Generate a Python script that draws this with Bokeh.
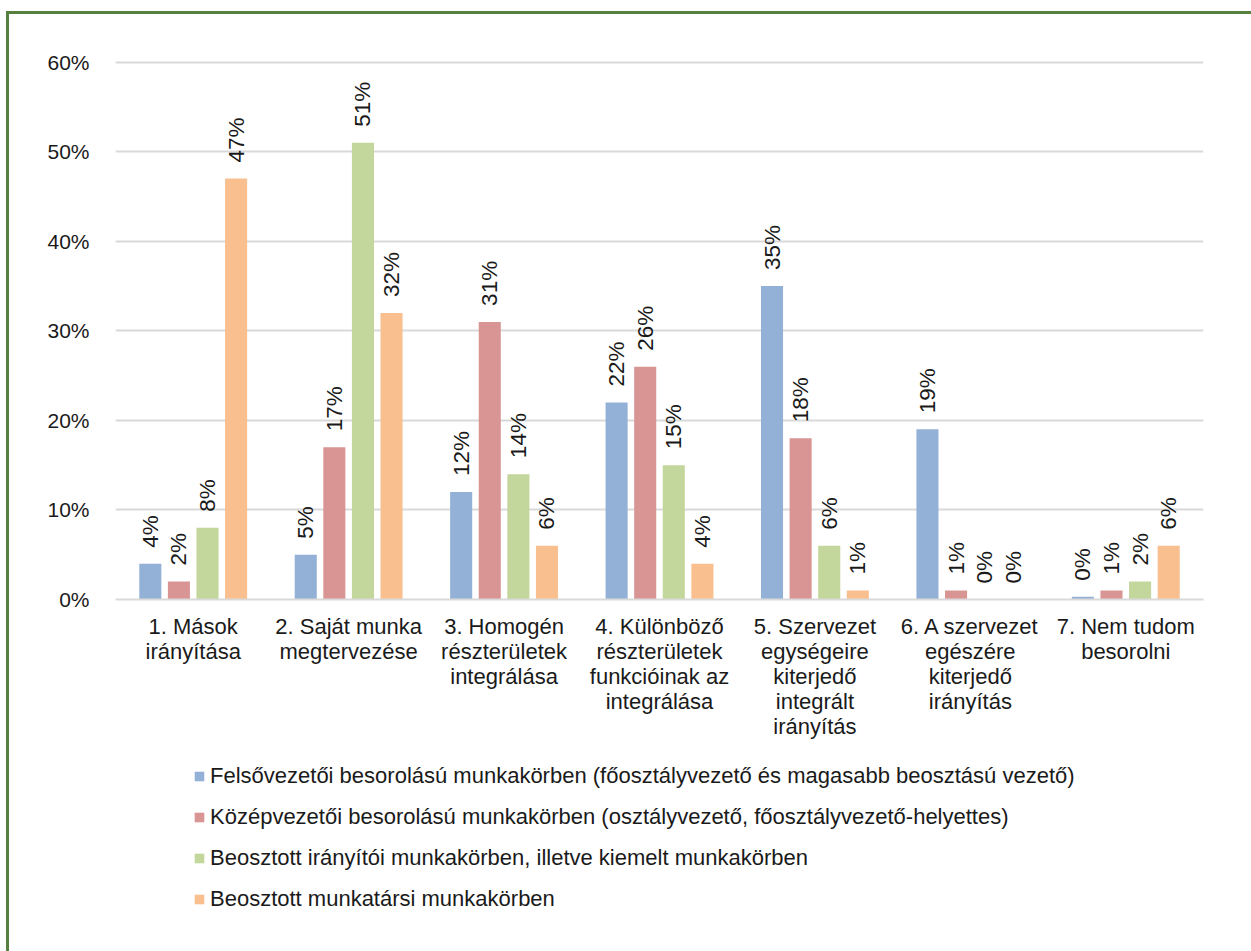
from bokeh.plotting import figure
from bokeh.layouts import column
from bokeh.models import (ColumnDataSource, FixedTicker, Range1d, Legend, LegendItem)
from bokeh.embed import file_html
from bokeh.resources import INLINE
from bokeh.core.properties import value
import math

# Response shares (%) per task category, one list per job level
categories = [
    "1. Mások\nirányítása",
    "2. Saját munka\nmegtervezése",
    "3. Homogén\nrészterületek\nintegrálása",
    "4. Különböző\nrészterületek\nfunkcióinak az\nintegrálása",
    "5. Szervezet\negységeire\nkiterjedő\nintegrált\nirányítás",
    "6. A szervezet\negészére\nkiterjedő\nirányítás",
    "7. Nem tudom\nbesorolni",
]
series_names = [
    "Felsővezetői besorolású munkakörben (főosztályvezető és magasabb beosztású vezető)",
    "Középvezetői besorolású munkakörben (osztályvezető, főosztályvezető-helyettes)",
    "Beosztott irányítói munkakörben, illetve kiemelt munkakörben",
    "Beosztott munkatársi munkakörben",
]
felsovezetoi = [4, 5, 12, 22, 35, 19, 0.3]
kozepvezetoi = [2, 17, 31, 26, 18, 1, 1]
beosztott_iranyitoi = [8, 51, 14, 15, 6, 0, 2]
beosztott_munkatarsi = [47, 32, 6, 4, 1, 0, 6]
series_values = [felsovezetoi, kozepvezetoi, beosztott_iranyitoi, beosztott_munkatarsi]
colors = ["#93b1d6", "#d99594", "#c3d69b", "#f9bf8f"]
y_ticks = [0, 10, 20, 30, 40, 50, 60]

FONT = "Liberation Sans"
TEXT = "#1a1a1a"

# main bar chart
p = figure(width=1242, height=735, output_backend="svg", toolbar_location=None,
           x_range=Range1d(-0.5, len(categories) - 0.5), y_range=Range1d(0, 60.3),
           min_border_left=106, min_border_right=48, min_border_top=45,
           min_border_bottom=150, background_fill_color="white",
           border_fill_color="white", outline_line_color=None)

bar_w = 0.142
step = 0.184
for i, (vals, col) in enumerate(zip(series_values, colors)):
    xs = [k + (i - 1.5) * step for k in range(len(categories))]
    src = ColumnDataSource(dict(x=xs, top=vals,
                                lab=[f"{round(v)}%" for v in vals]))
    p.vbar(x="x", top="top", width=bar_w, source=src, fill_color=col,
           line_color=None)
    p.text(x="x", y="top", text="lab", source=src, angle=math.pi / 2,
           y_offset=-16, text_align="left", text_baseline="middle",
           text_font=value(FONT), text_font_size="22.5px", text_color=TEXT)

# y axis
p.yaxis.ticker = FixedTicker(ticks=y_ticks)
p.yaxis.major_label_overrides = {t: f"{t}%" for t in y_ticks}
p.yaxis.axis_line_color = None
p.yaxis.major_tick_line_color = None
p.yaxis.minor_tick_line_color = None
p.yaxis.major_label_standoff = 20
p.yaxis.major_label_text_font = FONT
p.yaxis.major_label_text_font_size = "21px"
p.yaxis.major_label_text_color = TEXT

# x axis with category names
p.xaxis.ticker = FixedTicker(ticks=list(range(len(categories))))
p.xaxis.major_label_overrides = {k: c for k, c in enumerate(categories)}
p.xaxis.axis_line_color = "#d9d9d9"
p.xaxis.axis_line_width = 2
p.xaxis.major_tick_line_color = None
p.xaxis.minor_tick_line_color = None
p.xaxis.major_label_standoff = 8
p.xaxis.major_label_text_font = FONT
p.xaxis.major_label_text_font_size = "22px"
p.xaxis.major_label_text_line_height = 1.0
p.xaxis.major_label_text_color = TEXT

p.xgrid.grid_line_color = None
p.ygrid.grid_line_color = "#d9d9d9"
p.ygrid.grid_line_width = 2

# legend strip underneath the chart
lp = figure(width=1242, height=202, output_backend="svg", toolbar_location=None,
            x_range=Range1d(0, 1), y_range=Range1d(0, 1),
            x_axis_type=None, y_axis_type=None, min_border=0,
            background_fill_color="white", border_fill_color="white",
            outline_line_color=None)
lp.xgrid.visible = False
lp.ygrid.visible = False
items = []
for name, col in zip(series_names, colors):
    # a single far off-range bar so each legend swatch has a glyph to draw
    r = lp.vbar(x=[-50], top=[-50], bottom=[-60], width=0.1,
                fill_color=col, line_color=None)
    items.append(LegendItem(label=name, renderers=[r]))

legend = Legend(items=items, location=(78, 39), orientation="vertical",
                border_line_color=None, background_fill_alpha=0,
                padding=0, margin=0, spacing=15, label_height=24,
                glyph_width=12, glyph_height=12, label_standoff=5,
                label_text_font=FONT, label_text_font_size="22px",
                label_text_color=TEXT)
lp.add_layout(legend, "center")

page = column(p, lp, spacing=0, margin=(11, 0, 0, 6),
              styles={"border-top": "3px solid #56803f",
                      "border-left": "3px solid #56803f"})

open("out.html", "w").write(file_html(page, INLINE))
